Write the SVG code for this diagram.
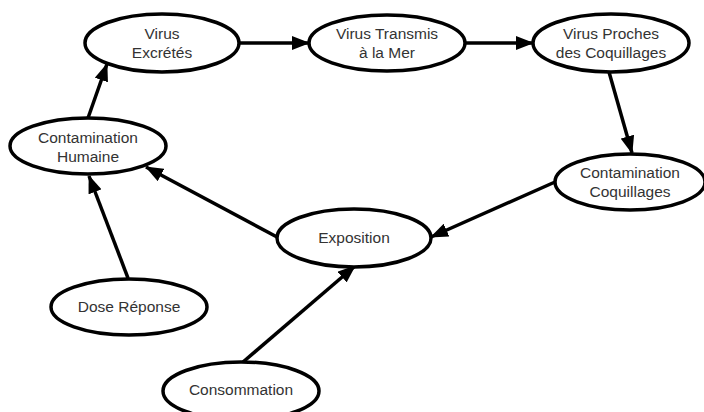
<svg xmlns="http://www.w3.org/2000/svg" width="704" height="412" viewBox="0 0 704 412">
<style>
.n ellipse{fill:#fff;stroke:#000;stroke-width:3.5}
.n text{font-family:"Liberation Sans",Arial,sans-serif;font-size:15.5px;fill:#333;text-anchor:middle}
#edges line{stroke:#000;stroke-width:3.5;marker-end:url(#ah)}
</style>
<defs>
<marker id="ah" markerUnits="userSpaceOnUse" markerWidth="18" markerHeight="14" refX="17" refY="7" orient="auto">
<path d="M0,0 L18,7 L0,14 z" fill="#000"/>
</marker>
</defs>
<rect width="704" height="412" fill="#fff"/>
<g id="edges">
<line x1="240" y1="43" x2="309" y2="43"/>
<line x1="465" y1="43" x2="533" y2="43"/>
<line x1="609" y1="72" x2="632" y2="153"/>
<line x1="555" y1="182" x2="431" y2="237"/>
<line x1="277" y1="237" x2="146" y2="167"/>
<line x1="128" y1="278" x2="89" y2="176"/>
<line x1="88" y1="118" x2="107" y2="64"/>
<line x1="243" y1="362" x2="355" y2="266"/>
</g>
<g id="virus-excretes" class="n"><ellipse cx="162" cy="43" rx="77" ry="29"/><text x="162" y="39">Virus</text><text x="162" y="58">Excrétés</text></g>
<g id="virus-transmis" class="n"><ellipse cx="387" cy="43" rx="78" ry="28"/><text x="387" y="39">Virus Transmis</text><text x="387" y="58">à la Mer</text></g>
<g id="virus-proches" class="n"><ellipse cx="611" cy="43" rx="78" ry="29"/><text x="611" y="39">Virus Proches</text><text x="611" y="58">des Coquillages</text></g>
<g id="contamination-coquillages" class="n"><ellipse cx="630" cy="182" rx="75" ry="28"/><text x="630" y="178">Contamination</text><text x="630" y="197">Coquillages</text></g>
<g id="contamination-humaine" class="n"><ellipse cx="88" cy="146" rx="78" ry="28"/><text x="88" y="142.5">Contamination</text><text x="88" y="161.5">Humaine</text></g>
<g id="exposition" class="n"><ellipse cx="354" cy="238" rx="77" ry="29"/><text x="354" y="243">Exposition</text></g>
<g id="dose-reponse" class="n"><ellipse cx="129" cy="307" rx="78" ry="28"/><text x="129" y="312">Dose Réponse</text></g>
<g id="consommation" class="n"><ellipse cx="241" cy="391" rx="78" ry="29"/><text x="241" y="395">Consommation</text></g>
</svg>
